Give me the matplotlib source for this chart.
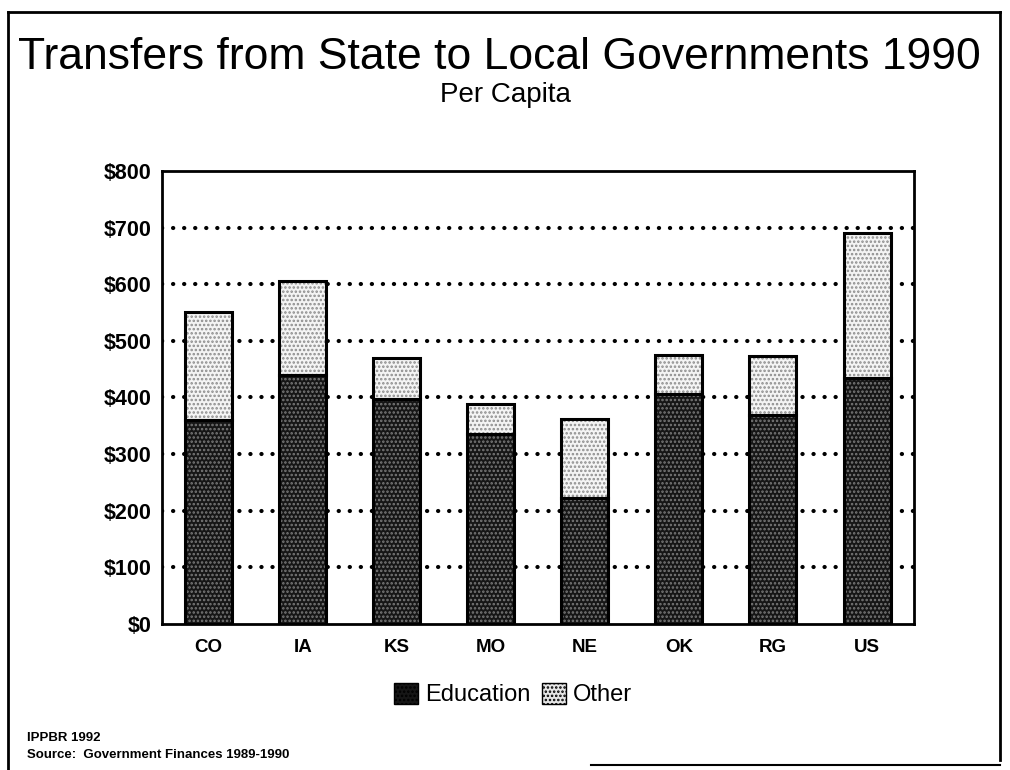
import numpy as np
import matplotlib
matplotlib.use("Agg")
import matplotlib.pyplot as plt
from matplotlib.lines import Line2D
from matplotlib.patches import Patch

plt.rcParams["font.family"] = ["Liberation Sans", "DejaVu Sans"]
plt.rcParams["hatch.linewidth"] = 1.2

# ---- Data ------------------------------------------------------------------
states = ["CO", "IA", "KS", "MO", "NE", "OK", "RG", "US"]
education = [360, 440, 397, 335, 222, 406, 368, 435]
total = [551, 606, 470, 389, 362, 474, 473, 690]
other = [t - e for t, e in zip(total, education)]
yticks = [0, 100, 200, 300, 400, 500, 600, 700, 800]
ytick_labels = [f"${v}" for v in yticks]

# ---- Figure ----------------------------------------------------------------
fig = plt.figure(figsize=(10.1, 7.7), dpi=100)
ax = fig.add_axes([0.160, 0.190, 0.745, 0.588])

x = np.arange(len(states))
w = 0.5
ed_face, ed_hatch = "#161616", "#7a7a7a"
ot_face, ot_hatch = "#f4f4f4", "#8c8c8c"

# filled + hatched bodies, then black outlines on top
ax.bar(x, education, w, color=ed_face, edgecolor=ed_hatch, hatch="....",
       linewidth=0, zorder=3)
ax.bar(x, other, w, bottom=education, color=ot_face, edgecolor=ot_hatch,
       hatch="....", linewidth=0, zorder=3)
ax.bar(x, education, w, fill=False, edgecolor="black", linewidth=2.2, zorder=4)
ax.bar(x, other, w, bottom=education, fill=False, edgecolor="black",
       linewidth=2.2, zorder=4)

# dotted gridlines (round dots)
for v in yticks[1:-1]:
    ax.axhline(v, color="black", linestyle=(0, (0.05, 2.6)), linewidth=3.0,
               dash_capstyle="round", zorder=1)

ax.set_xlim(-0.5, len(states) - 0.5)
ax.set_ylim(0, 800)
ax.set_yticks(yticks)
ax.set_yticklabels(ytick_labels, fontsize=15.5, fontweight="bold")
ax.set_xticks(x)
ax.set_xticklabels(states, fontsize=13.5, fontweight="bold")
ax.tick_params(axis="both", length=0)
ax.tick_params(axis="x", pad=11)
ax.tick_params(axis="y", pad=7)
for s in ax.spines.values():
    s.set_linewidth(2)

# ---- Legend ----------------------------------------------------------------
handles = [Patch(facecolor=ed_face, edgecolor="black", hatch="....", label="Education"),
           Patch(facecolor="#e6e6e6", edgecolor="black", hatch="....", label="Other")]
fig.legend(handles=handles, loc="center", bbox_to_anchor=(0.508, 0.098), ncol=2,
           frameon=False, fontsize=17, handlelength=1.0, handleheight=1.0,
           handletextpad=0.3, columnspacing=0.5)

# ---- Titles / notes --------------------------------------------------------
fig.text(0.494, 0.925, "Transfers from State to Local Governments 1990",
         ha="center", va="center", fontsize=32)
fig.text(0.5, 0.877, "Per Capita", ha="center", va="center", fontsize=20)
fig.text(0.027, 0.041, "IPPBR 1992", fontsize=9.5, fontweight="bold", va="center")
fig.text(0.027, 0.019, "Source:  Government Finances 1989-1990", fontsize=9.5,
         fontweight="bold", va="center")

# ---- Page border -----------------------------------------------------------
fig.add_artist(Line2D([0.008, 0.008], [0.0, 0.985], color="black", lw=2))
fig.add_artist(Line2D([0.008, 0.99], [0.985, 0.985], color="black", lw=2))
fig.add_artist(Line2D([0.99, 0.99], [0.985, 0.013], color="black", lw=2))
fig.add_artist(Line2D([0.585, 0.99], [0.007, 0.007], color="black", lw=1.5))

fig.savefig("out.png", dpi=100, facecolor="white")
plt.close()
